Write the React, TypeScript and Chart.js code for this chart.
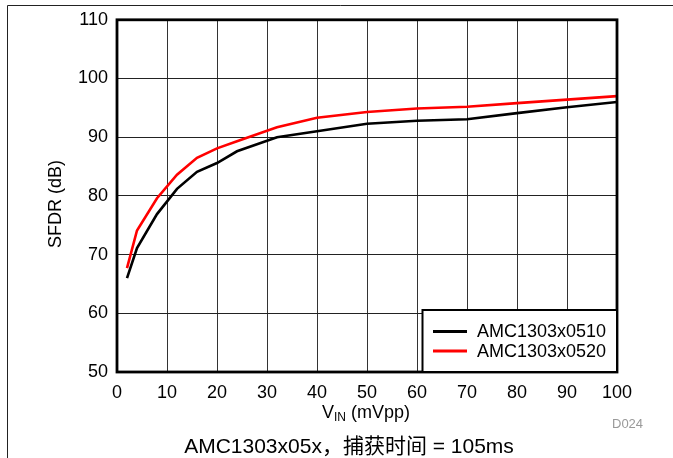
import React, { useEffect, useRef } from "react";
import { Chart, registerables } from "chart.js";

Chart.register(...registerables);

const vin = [2, 4, 8, 12, 16, 20, 24, 32, 40, 50, 60, 70, 80, 90, 100];
const sfdr0510 = [66, 71.1, 76.9, 81.2, 84.1, 85.6, 87.6, 90, 91, 92.3, 92.8, 93.05, 94.1, 95.1, 96];
const sfdr0520 = [67.7, 74.1, 79.6, 83.6, 86.5, 88.1, 89.3, 91.7, 93.3, 94.3, 94.9, 95.2, 95.8, 96.4, 97];
const seriesNames = ["AMC1303x0510", "AMC1303x0520"];
const seriesColors = ["#000000", "#ff0000"];
const yTitle = "SFDR (dB)";
const xTitleMain = "V";
const xTitleSub = "IN";
const xTitleRest = " (mVpp)";
const caption = "AMC1303x05x，捕获时间 = 105ms";
const figId = "D024";

const FONT = "'Liberation Sans', Arial, sans-serif";

const overlay = {
  id: "overlay",
  afterDraw(chart: any) {
    const ctx = chart.ctx as CanvasRenderingContext2D;
    const a = chart.chartArea;
    ctx.save();
    // page frame
    ctx.strokeStyle = "#222";
    ctx.lineWidth = 1;
    ctx.beginPath();
    ctx.moveTo(7.5, 458);
    ctx.lineTo(7.5, 5.5);
    ctx.lineTo(673, 5.5);
    ctx.stroke();

    // plot border
    ctx.strokeStyle = "#000";
    ctx.lineWidth = 2.8;
    ctx.strokeRect(a.left, a.top, a.right - a.left, a.bottom - a.top);

    // legend box
    const lx = 422.5, ly = 310, lw = a.right - lx, lh = a.bottom - ly;
    ctx.fillStyle = "#fff";
    ctx.fillRect(lx, ly, lw, lh);
    ctx.lineWidth = 2;
    ctx.strokeRect(lx, ly, lw, lh);
    ctx.font = `18px ${FONT}`;
    ctx.textBaseline = "middle";
    ctx.textAlign = "left";
    const rows = [331.5, 351];
    seriesNames.forEach((n, i) => {
      ctx.strokeStyle = seriesColors[i];
      ctx.lineWidth = 3;
      ctx.beginPath();
      ctx.moveTo(433, rows[i]);
      ctx.lineTo(467, rows[i]);
      ctx.stroke();
      ctx.fillStyle = "#000";
      ctx.fillText(n, 477, rows[i] + 1);
    });

    // y title
    ctx.save();
    ctx.translate(56, 204);
    ctx.rotate(-Math.PI / 2);
    ctx.textAlign = "center";
    ctx.textBaseline = "middle";
    ctx.fillStyle = "#000";
    ctx.font = `18px ${FONT}`;
    ctx.fillText(yTitle, 0, 0);
    ctx.restore();

    // x title with subscript
    ctx.fillStyle = "#000";
    ctx.textBaseline = "alphabetic";
    ctx.font = `18px ${FONT}`;
    const w1 = ctx.measureText(xTitleMain).width;
    const w3 = ctx.measureText(xTitleRest).width;
    ctx.font = `12px ${FONT}`;
    const w2 = ctx.measureText(xTitleSub).width;
    const total = w1 + w2 + w3;
    let x = 366 - total / 2;
    const base = 418;
    ctx.font = `18px ${FONT}`;
    ctx.fillText(xTitleMain, x, base);
    x += w1;
    ctx.font = `12px ${FONT}`;
    ctx.fillText(xTitleSub, x, base + 3);
    x += w2;
    ctx.font = `18px ${FONT}`;
    ctx.fillText(xTitleRest, x, base);

    // figure id
    ctx.fillStyle = "#999";
    ctx.font = `13px ${FONT}`;
    ctx.textAlign = "left";
    ctx.textBaseline = "middle";
    ctx.fillText(figId, 612, 424);

    // caption
    ctx.fillStyle = "#000";
    ctx.font = `21px 'Liberation Sans', Arial, 'Noto Sans CJK SC', sans-serif`;
    ctx.textAlign = "center";
    ctx.textBaseline = "middle";
    ctx.fillText(caption, 349, 447);
    ctx.restore();
  },
};

export default function App() {
  const ref = useRef<HTMLCanvasElement>(null);
  useEffect(() => {
    document.body.style.margin = "0";
    const canvas = ref.current!;
    const chart = new Chart(canvas, {
      type: "line",
      data: {
        datasets: [
          {
            label: seriesNames[0],
            data: vin.map((v, i) => ({ x: v, y: sfdr0510[i] })),
            borderColor: seriesColors[0],
            borderWidth: 2.6,
            pointRadius: 0,
            tension: 0,
            fill: false,
          },
          {
            label: seriesNames[1],
            data: vin.map((v, i) => ({ x: v, y: sfdr0520[i] })),
            borderColor: seriesColors[1],
            borderWidth: 2.6,
            pointRadius: 0,
            tension: 0,
            fill: false,
          },
        ],
      },
      options: {
        responsive: false,
        animation: false,
        devicePixelRatio: 1,
        layout: { padding: { left: 0, right: 56, top: 18, bottom: 46 } },
        plugins: { legend: { display: false }, tooltip: { enabled: false } },
        scales: {
          x: {
            type: "linear",
            min: 0,
            max: 100,
            afterFit: (s: any) => {
              s.height = 40;
            },
            ticks: {
              stepSize: 10,
              color: "#000",
              padding: 10,
              maxRotation: 0,
              font: { family: FONT, size: 18 },
            },
            grid: { color: "#333", lineWidth: 1, drawTicks: false },
            border: { display: false },
          },
          y: {
            type: "linear",
            min: 50,
            max: 110,
            afterFit: (s: any) => {
              s.width = 117;
            },
            ticks: {
              stepSize: 10,
              color: "#000",
              padding: 9,
              font: { family: FONT, size: 18 },
            },
            grid: { color: "#222", lineWidth: 1, drawTicks: false },
            border: { display: false },
          },
        },
      },
      plugins: [overlay],
    });
    return () => chart.destroy();
  }, []);
  return (
    <canvas
      ref={ref}
      width={673}
      height={458}
      style={{ position: "absolute", left: 0, top: 0, width: 673, height: 458 }}
    />
  );
}
